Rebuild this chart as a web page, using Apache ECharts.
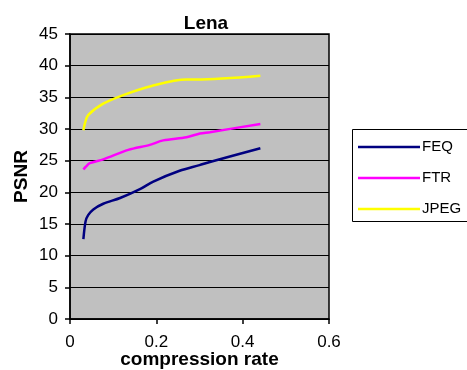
<!DOCTYPE html>
<html><head><meta charset="utf-8">
<script src="https://cdn.jsdelivr.net/npm/echarts@6/dist/echarts.min.js"></script>
<style>html,body{margin:0;padding:0;background:#fff}#c{width:467px;height:370px}</style>
</head><body><div id="c"></div>
<script>
const titleText = 'Lena';
const xName = 'compression rate';
const yName = 'PSNR';
const seriesNames = ['FEQ', 'FTR', 'JPEG'];
const seriesColors = ['#000080', '#FF00FF', '#FFFF00'];
const feqX = [0.031, 0.036, 0.042, 0.054, 0.077, 0.116, 0.162, 0.193, 0.254, 0.300, 0.324, 0.441];
const feqY = [12.6, 15.4, 16.4, 17.3, 18.2, 19.1, 20.5, 21.7, 23.4, 24.3, 24.8, 26.95];
const ftrX = [0.031, 0.036, 0.046, 0.077, 0.135, 0.185, 0.216, 0.270, 0.301, 0.324, 0.441];
const ftrY = [23.6, 24.0, 24.6, 25.2, 26.7, 27.5, 28.2, 28.7, 29.3, 29.5, 30.8];
const jpegX = [0.031, 0.035, 0.042, 0.077, 0.125, 0.189, 0.270, 0.293, 0.441];
const jpegY = [29.8, 31.0, 32.2, 34.0, 35.4, 36.8, 37.8, 37.8, 38.4];

const pairs = (xs, ys) => xs.map((x, i) => [x, ys[i]]);
const seriesData = [pairs(feqX, feqY), pairs(ftrX, ftrY), pairs(jpegX, jpegY)];
const font = '"Liberation Sans", Arial, sans-serif';
const boxStyle = {stroke: '#000', lineWidth: 1};

const chart = echarts.init(document.getElementById('c'), null, {renderer: 'canvas'});
chart.setOption({
  animation: false,
  backgroundColor: '#fff',
  title: {
    text: titleText, left: 201, top: 9, textAlign: 'center',
    textStyle: {fontFamily: font, fontSize: 19, fontWeight: 'bold', color: '#000'}
  },
  grid: {
    left: 70, right: 138, top: 34, bottom: 51, show: true,
    containLabel: false, outerBoundsMode: 'none',
    backgroundColor: '#C0C0C0', borderColor: '#000', borderWidth: 1.5
  },
  xAxis: {
    type: 'value', min: 0, max: 0.6, interval: 0.2,
    name: xName, nameLocation: 'middle', nameGap: 31, nameMoveOverlap: false,
    nameTextStyle: {fontFamily: font, fontSize: 19, fontWeight: 'bold', color: '#000'},
    axisLine: {show: true, onZero: false, lineStyle: {color: '#000', width: 1.5}},
    axisTick: {show: true, length: 5, lineStyle: {color: '#000', width: 1.5}},
    axisLabel: {fontFamily: font, fontSize: 17, color: '#000', margin: 15},
    splitLine: {show: false}
  },
  yAxis: {
    type: 'value', min: 0, max: 45, interval: 5,
    name: yName, nameLocation: 'middle', nameGap: 39, nameRotate: 90, nameMoveOverlap: false,
    nameTextStyle: {fontFamily: font, fontSize: 19, fontWeight: 'bold', color: '#000'},
    axisLine: {show: true, lineStyle: {color: '#000', width: 1.5}},
    axisTick: {show: true, length: 5, lineStyle: {color: '#000', width: 1.5}},
    axisLabel: {fontFamily: font, fontSize: 17, color: '#000', margin: 12},
    splitLine: {show: true, lineStyle: {color: '#000', width: 1}}
  },
  legend: {
    orient: 'vertical', left: 353, top: 134.5,
    itemWidth: 62, itemHeight: 2.5, itemGap: 16,
    icon: 'rect',
    textStyle: {fontFamily: font, fontSize: 15, color: '#000', padding: [0, 0, 0, -3]},
    data: seriesNames
  },
  graphic: [
    {type: 'line', shape: {x1: 352.5, y1: 129.5, x2: 470, y2: 129.5}, style: boxStyle, silent: true},
    {type: 'line', shape: {x1: 352.5, y1: 129.5, x2: 352.5, y2: 221.5}, style: boxStyle, silent: true},
    {type: 'line', shape: {x1: 352.5, y1: 221.5, x2: 470, y2: 221.5}, style: boxStyle, silent: true}
  ],
  series: seriesNames.map((n, i) => ({
    name: n, type: 'line', data: seriesData[i], symbol: 'none', smooth: 0.3,
    lineStyle: {color: seriesColors[i], width: 2.5}, itemStyle: {color: seriesColors[i]}
  }))
});
</script></body></html>
